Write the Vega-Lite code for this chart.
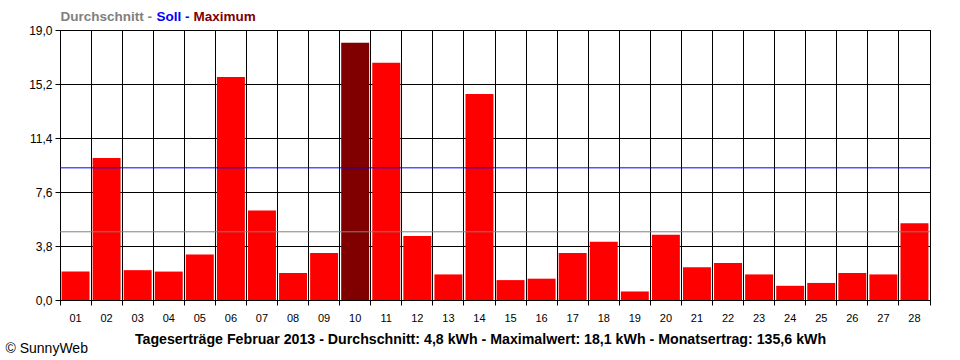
{
  "$schema": "https://vega.github.io/schema/vega-lite/v6.json",
  "width": 870,
  "height": 270,
  "autosize": {"type": "none"},
  "padding": {"left": 60, "top": 30, "right": 30, "bottom": 60},
  "background": "white",
  "config": {
    "view": {"stroke": "black", "strokeWidth": 1},
    "font": "Liberation Sans",
    "axis": {
      "domainColor": "black",
      "tickColor": "black",
      "gridColor": "black",
      "gridOpacity": 1,
      "gridWidth": 1,
      "labelColor": "black",
      "labelFont": "Liberation Sans",
      "labelFontSize": 12
    }
  },
  "datasets": {
    "tage": [
      {"tag": "01", "kwh": 2.0, "serie": "Tag"},
      {"tag": "02", "kwh": 10.0, "serie": "Tag"},
      {"tag": "03", "kwh": 2.1, "serie": "Tag"},
      {"tag": "04", "kwh": 2.0, "serie": "Tag"},
      {"tag": "05", "kwh": 3.2, "serie": "Tag"},
      {"tag": "06", "kwh": 15.7, "serie": "Tag"},
      {"tag": "07", "kwh": 6.3, "serie": "Tag"},
      {"tag": "08", "kwh": 1.9, "serie": "Tag"},
      {"tag": "09", "kwh": 3.3, "serie": "Tag"},
      {"tag": "10", "kwh": 18.1, "serie": "Maximum"},
      {"tag": "11", "kwh": 16.7, "serie": "Tag"},
      {"tag": "12", "kwh": 4.5, "serie": "Tag"},
      {"tag": "13", "kwh": 1.8, "serie": "Tag"},
      {"tag": "14", "kwh": 14.5, "serie": "Tag"},
      {"tag": "15", "kwh": 1.4, "serie": "Tag"},
      {"tag": "16", "kwh": 1.5, "serie": "Tag"},
      {"tag": "17", "kwh": 3.3, "serie": "Tag"},
      {"tag": "18", "kwh": 4.1, "serie": "Tag"},
      {"tag": "19", "kwh": 0.6, "serie": "Tag"},
      {"tag": "20", "kwh": 4.6, "serie": "Tag"},
      {"tag": "21", "kwh": 2.3, "serie": "Tag"},
      {"tag": "22", "kwh": 2.6, "serie": "Tag"},
      {"tag": "23", "kwh": 1.8, "serie": "Tag"},
      {"tag": "24", "kwh": 1.0, "serie": "Tag"},
      {"tag": "25", "kwh": 1.2, "serie": "Tag"},
      {"tag": "26", "kwh": 1.9, "serie": "Tag"},
      {"tag": "27", "kwh": 1.8, "serie": "Tag"},
      {"tag": "28", "kwh": 5.4, "serie": "Tag"}
    ],
    "linien": [
      {"serie": "Durchschnitt", "kwh": 4.8},
      {"serie": "Soll", "kwh": 9.3}
    ]
  },
  "layer": [
    {
      "data": {"name": "tage"},
      "mark": {"type": "bar", "width": {"band": 0.9}},
      "encoding": {
        "x": {
          "field": "tag",
          "type": "ordinal",
          "scale": {"paddingInner": 0, "paddingOuter": 0},
          "axis": {
            "title": "Tageserträge Februar 2013 - Durchschnitt: 4,8 kWh - Maximalwert: 18,1 kWh - Monatsertrag: 135,6 kWh",
            "titleFont": "Liberation Sans",
            "titleFontSize": 14.2,
            "titleFontWeight": "bold",
            "titleColor": "black",
            "titleX": 420,
            "titleY": 39,
            "titleAlign": "center",
            "titleBaseline": "middle",
            "labelAngle": 0,
            "labelFontSize": 11,
            "bandPosition": 1,
            "tickExtra": true,
            "tickSize": 5,
            "labelPadding": 7,
            "grid": true
          }
        },
        "y": {
          "field": "kwh",
          "type": "quantitative",
          "scale": {"domain": [0, 19], "nice": false, "zero": true},
          "axis": {
            "values": [0, 3.8, 7.6, 11.4, 15.2, 19],
            "labelExpr": "replace(format(datum.value, '.1f'), '.', ',')",
            "tickSize": 5,
            "labelPadding": 3,
            "grid": true,
            "title": "© SunnyWeb",
            "titleAngle": 0,
            "titleX": -55,
            "titleY": 318,
            "titleAlign": "left",
            "titleBaseline": "middle",
            "titleFont": "Liberation Sans",
            "titleFontSize": 14,
            "titleFontWeight": "normal",
            "titleColor": "black"
          }
        },
        "color": {
          "field": "serie",
          "type": "nominal",
          "scale": {
            "domain": ["Durchschnitt", "Soll", "Maximum", "Tag"],
            "range": ["#808080", "#0000FF", "#800000", "#FF0000"]
          },
          "legend": {
            "values": ["Durchschnitt", "Soll", "Maximum"],
            "orient": "none",
            "legendX": -13,
            "legendY": -20,
            "direction": "horizontal",
            "title": null,
            "padding": 0,
            "gridAlign": "none",
            "symbolSize": 0,
            "symbolStrokeWidth": 0,
            "symbolOpacity": 0,
            "labelOffset": 0,
            "columnPadding": -10,
            "labelFont": "Liberation Sans",
            "labelFontSize": 13.5,
            "labelFontWeight": "bold",
            "labelExpr": "datum.value == 'Maximum' ? datum.value : datum.value + ' -'",
            "encode": {
              "labels": {"update": {"fill": {"scale": "color", "field": "value"}}}
            }
          }
        }
      }
    },
    {
      "data": {"name": "linien"},
      "mark": {"type": "rule", "strokeWidth": 1},
      "encoding": {
        "y": {"field": "kwh", "type": "quantitative"},
        "color": {"field": "serie", "type": "nominal"}
      }
    }
  ]
}
